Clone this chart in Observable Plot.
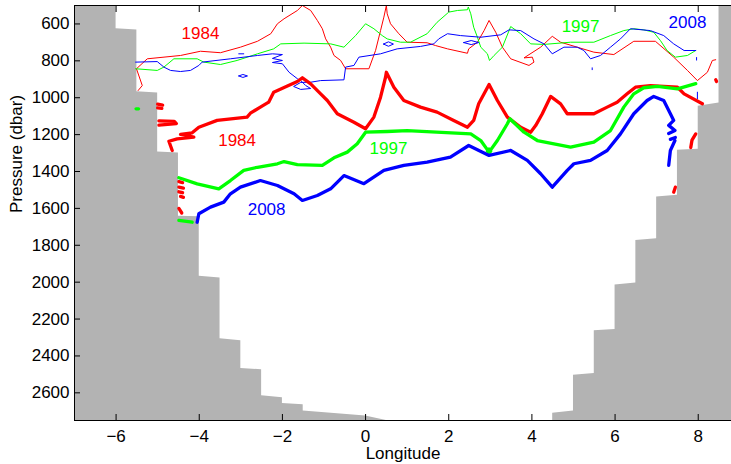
<!DOCTYPE html>
<html>
<head>
<meta charset="utf-8">
<script src="https://cdn.jsdelivr.net/npm/d3@7"></script>
<script src="https://cdn.jsdelivr.net/npm/@observablehq/plot@0.6"></script>
<style>
  body { margin: 0; background: #fff; }
</style>
</head>
<body>
<div id="chart"></div>
<script>
// ---- Axis ticks ----
const xTicks = [-6, -4, -2, 0, 2, 4, 6, 8];
const yTicks = [600, 800, 1000, 1200, 1400, 1600, 1800, 2000, 2200, 2400, 2600];

// ---- Bathymetry (seafloor pressure, dbar) ----
const bathyLon = [-7, -6, -6, -5.5, -5.5, -5, -5, -4.5, -4.5, -4, -4, -3.5, -3.5, -3, -3, -2.5, -2.5, -2, -2, -1.5, -1.5, 0, 0.7,
                  4.5, 4.5, 5, 5, 5.5, 5.5, 6, 6, 6.5, 6.5, 7, 7, 7.5, 7.5, 8, 8, 8.5, 8.5, 8.8];
const bathyP = [450, 450, 626, 633, 968, 975, 1294, 1300, 1643, 1646, 1968, 1977, 2307, 2317, 2468, 2475, 2616, 2627, 2658, 2665, 2698, 2725, 2760,
                2760, 2711, 2698, 2504, 2495, 2263, 2256, 2015, 2004, 1774, 1765, 1538, 1529, 1285, 1279, 1046, 1028, 450, 450];

// ---- Upper contour (thin) ----
const thin1984 = [
  [[-5.47,961],[-5.37,934],[-5.51,843],[-5.25,789],[-4.45,771],[-3.97,748],[-3.49,756],[-3.01,726],[-2.60,694],[-2.28,653],[-2.12,599],[-1.96,572],[-1.64,527],[-1.52,500],[-1.32,527],[-1.16,581],[-1.04,626],[-0.96,681],[-0.84,726],[-0.76,771],[-0.60,798],[-0.48,843],[0.08,843],[0.24,744],[0.36,636],[0.44,563],[0.50,500],[0.52,545],[0.60,599],[0.80,653],[1.00,699],[1.48,702],[1.68,717],[1.97,735],[2.45,759],[2.48,735],[2.69,699],[2.85,636],[2.97,581],[3.13,645],[3.29,726],[3.49,789],[3.93,825],[4.05,807],[4.01,780],[3.81,784],[4.21,726],[4.49,667],[4.69,699],[5.09,726],[5.49,753],[5.97,766],[6.45,694],[6.97,694],[7.41,780],[7.74,852],[7.98,907],[8.22,862],[8.34,798],[8.42,794]]
];
const thin1997 = [
  [[-5.53,843],[-5.01,852],[-4.85,834],[-4.61,789],[-4.05,789],[-3.89,807],[-3.49,820],[-3.09,798],[-2.60,762],[-2.21,735],[-2.04,708],[-1.48,704],[-0.84,708],[-0.52,726],[-0.24,663],[0.0,599],[0.20,626],[0.40,663],[0.52,681],[0.84,699],[1.08,699],[1.48,653],[1.72,591],[2.00,536],[2.21,527],[2.45,523],[2.47,508],[2.53,545],[2.60,618],[2.69,672],[2.77,726],[2.93,762],[2.98,798],[3.09,771],[3.29,726],[3.49,614],[3.73,653],[3.97,708],[4.29,711],[4.93,699],[5.49,699],[5.89,663],[6.21,636],[6.45,626],[6.69,632],[6.93,645],[7.09,690],[7.25,744],[7.45,780],[7.74,771],[7.94,744]]
];
const thin2008 = [
  [[-5.53,807],[-5.01,804],[-4.85,834],[-4.69,852],[-4.45,858],[-4.21,852],[-4.01,825],[-3.93,807],[-3.25,789],[-2.60,771],[-2.24,762],[-2.00,766],[-2.24,787],[-2.00,798],[-2.24,809],[-2.00,816],[-1.84,862],[-1.64,897],[-1.56,907],[-1.44,934],[-1.32,950],[-1.56,955],[-1.73,939],[-1.56,917],[-1.32,916],[-1.08,907],[-0.52,903],[-0.48,834],[-0.28,825],[-0.16,780],[0.36,762],[0.76,735],[1.32,722],[1.64,708],[1.76,681],[1.97,653],[2.28,663],[2.77,672],[3.25,659],[3.45,632],[3.73,636],[4.05,681],[4.29,708],[4.49,762],[4.77,726],[5.09,726],[5.25,744],[5.41,789],[5.65,771],[5.89,726],[6.13,681],[6.37,626],[6.85,636],[7.17,663],[7.41,708],[7.66,744],[7.94,744]],
  [[0.43,709],[0.55,697],[0.67,709],[0.55,721],[0.43,709]],
  [[2.36,701],[2.54,690],[2.72,701],[2.54,712],[2.36,701]],
  [[-3.05,882],[-2.95,874],[-2.84,882],[-2.95,890],[-3.05,882]],
  [[-3.05,762],[-2.93,762]],
  [[5.45,838],[5.45,848]],
  [[7.96,782],[7.96,796]],
  [[7.98,970],[7.98,1006]]
];

// ---- Lower contour (thick) ----
const thick1984 = [
  [[-4.65,1286],[-4.73,1236],[-4.53,1223],[-4.13,1214],[-4.45,1199],[-4.17,1190],[-4.01,1160],[-3.57,1123],[-2.85,1105],[-2.77,1084],[-2.53,1051],[-2.33,1024],[-2.21,970],[-1.88,937],[-1.64,912],[-1.52,892],[-1.32,925],[-1.08,979],[-0.92,1015],[-0.68,1087],[-0.28,1133],[0.0,1168],[0.20,1105],[0.36,997],[0.48,889],[0.50,862],[0.68,943],[0.92,1015],[1.32,1051],[1.72,1078],[2.12,1123],[2.45,1160],[2.60,1123],[2.72,1033],[2.97,928],[3.17,1015],[3.41,1105],[3.73,1160],[3.97,1187],[4.09,1151],[4.25,1087],[4.45,993],[4.69,1033],[4.85,1087],[5.49,1087],[5.81,1051],[6.05,1024],[6.29,979],[6.49,943],[6.85,934],[7.50,943],[7.66,979],[8.10,1033]],
  [[-5.0,1035],[-4.88,1040]],
  [[-5.0,1055],[-4.9,1058]],
  [[-4.97,1125],[-4.6,1128],[-4.55,1140],[-4.97,1148]],
  [[-4.49,1455],[-4.4,1460]],
  [[-4.49,1485],[-4.38,1490]],
  [[-4.49,1510],[-4.4,1515]],
  [[-4.45,1535],[-4.38,1540]],
  [[-4.49,1600],[-4.42,1625]],
  [[7.82,1270],[7.85,1230],[7.94,1196]],
  [[7.41,1512],[7.45,1485]],
  [[8.42,902],[8.44,912]]
];
const thick1997 = [
  [[-4.49,1434],[-4.05,1467],[-3.53,1494],[-3.25,1449],[-2.93,1394],[-2.60,1377],[-2.12,1358],[-1.96,1346],[-1.64,1363],[-1.04,1367],[-0.76,1326],[-0.44,1295],[-0.20,1250],[0.0,1187],[0.52,1183],[1.00,1178],[2.53,1196],[2.77,1232],[2.97,1295],[3.17,1232],[3.41,1141],[3.47,1114],[3.81,1187],[4.13,1232],[4.93,1268],[5.49,1241],[5.89,1178],[6.21,1051],[6.45,979],[6.69,946],[7.02,939],[7.50,952],[7.94,924]],
  [[2.93,1290],[2.97,1278],[3.01,1290],[2.97,1300],[2.93,1290]],
  [[-5.52,1060],[-5.46,1060]],
  [[-4.49,1665],[-4.17,1675]]
];
const thick2008 = [
  [[-4.05,1675],[-4.01,1629],[-3.73,1593],[-3.41,1566],[-3.25,1521],[-3.01,1485],[-2.53,1449],[-2.12,1476],[-1.72,1521],[-1.52,1557],[-1.16,1530],[-0.84,1494],[-0.52,1422],[-0.04,1466],[0.44,1394],[0.92,1367],[1.48,1349],[2.04,1322],[2.48,1259],[2.97,1313],[3.49,1286],[3.89,1340],[4.21,1412],[4.49,1485],[4.85,1394],[5.01,1358],[5.41,1340],[5.81,1286],[6.13,1196],[6.45,1087],[6.77,1015],[6.93,993],[7.17,1015],[7.33,1087],[7.41,1123],[7.29,1150],[7.44,1178],[7.29,1194]],
  [[7.33,1226],[7.45,1216]],
  [[7.29,1367],[7.33,1286],[7.44,1232]]
];

// ---- Year labels ----
const labelText = ["1984", "1984", "1997", "2008", "1997", "2008"];
const labelLon  = [-3.97, -3.09, 0.55, -2.38, 5.17, 7.74];
const labelP    = [652, 1232, 1275, 1606, 614, 592];
const labelYear = [1984, 1984, 1997, 2008, 1997, 2008];

const colors = {1984: "#ff0000", 1997: "#00ff00", 2008: "#0000ff"};

// Build tables
const bathy = bathyLon.map((lon, i) => ({lon, p: bathyP[i]}));
function toRows(segs, year, kind) {
  return segs.flatMap((seg, si) => seg.map(([lon, p]) => ({lon, p, year, z: `${year}-${kind}-${si}`})));
}
const thinRows = [...toRows(thin1984, 1984, "t"), ...toRows(thin1997, 1997, "t"), ...toRows(thin2008, 2008, "t")];
const thickRows = [...toRows(thick1984, 1984, "T"), ...toRows(thick1997, 1997, "T"), ...toRows(thick2008, 2008, "T")];
const labels = labelText.map((t, i) => ({text: t, lon: labelLon[i], p: labelP[i], year: labelYear[i]}));

const font = "'Liberation Sans', Arial, Helvetica, sans-serif";

const chart = Plot.plot({
  width: 731,
  height: 464,
  marginLeft: 74,
  marginRight: 0,
  marginTop: 5,
  marginBottom: 44,
  x: {domain: [-7, 8.8]},
  y: {domain: [500, 2750], reverse: true},
  style: {fontFamily: font, fontSize: "17px", background: "white", color: "black"},
  marks: [
    Plot.areaY(bathy, {x: "lon", y1: "p", y2: 2760, fill: "#b3b3b3", curve: "linear", clip: true}),
    Plot.line(thinRows, {x: "lon", y: "p", z: "z", stroke: d => colors[d.year], strokeWidth: 1, clip: true}),
    Plot.line(thickRows, {x: "lon", y: "p", z: "z", stroke: d => colors[d.year], strokeWidth: 3.3, clip: true}),
    Plot.text(labels, {x: "lon", y: "p", text: "text", fill: d => colors[d.year], fontSize: 17}),
    Plot.axisX(xTicks, {anchor: "bottom", tickSize: -6, tickPadding: 15, label: null, fontSize: 17}),
    Plot.axisX(xTicks, {anchor: "top", tickSize: -6, tickFormat: () => "", label: null}),
    Plot.axisY(yTicks, {anchor: "left", tickSize: -6, tickPadding: 11, label: null, fontSize: 17, tickFormat: d3.format("d")}),
    Plot.ruleY([500], {stroke: "black"}),
    Plot.ruleY([2750], {stroke: "black"}),
    Plot.ruleX([-7], {stroke: "black"}),
    Plot.text(["Pressure (dbar)"], {frameAnchor: "left", rotate: -90, dx: -58, fontSize: 17}),
    Plot.text(["Longitude"], {frameAnchor: "bottom", dy: 38, fontSize: 17})
  ]
});
document.getElementById("chart").appendChild(chart);
</script>
</body>
</html>
